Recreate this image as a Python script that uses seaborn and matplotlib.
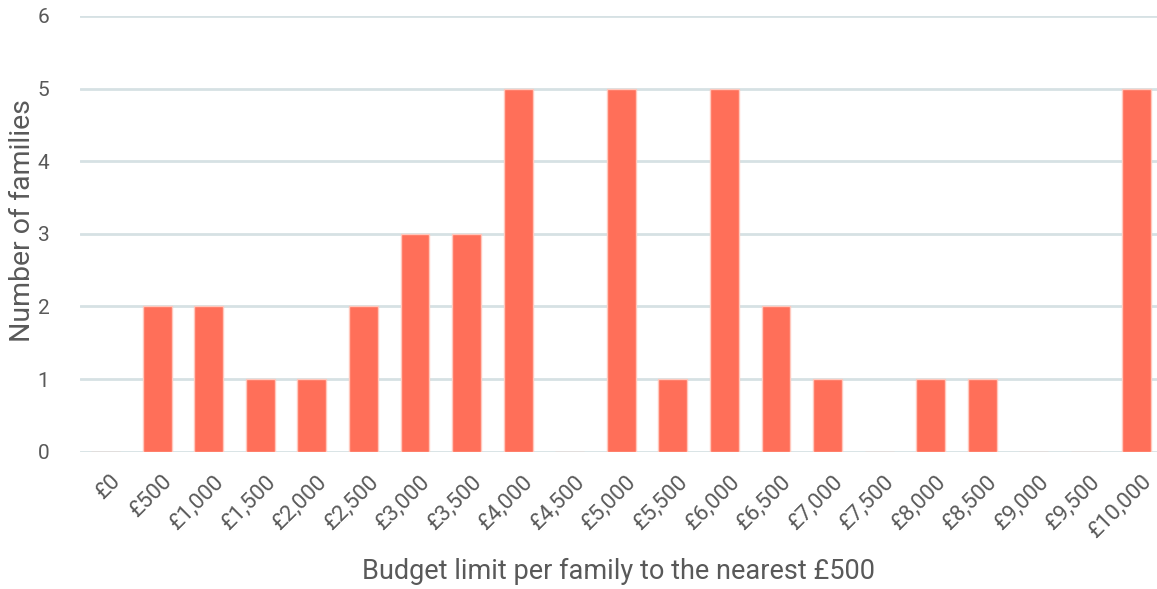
import numpy as np
import pandas as pd

import matplotlib
matplotlib.use('Agg')
import matplotlib.pyplot as plt
import matplotlib.transforms as mtransforms
import seaborn as sns

budgets = ['£0', '£500', '£1,000', '£1,500', '£2,000', '£2,500', '£3,000', '£3,500',
           '£4,000', '£4,500', '£5,000', '£5,500', '£6,000', '£6,500', '£7,000',
           '£7,500', '£8,000', '£8,500', '£9,000', '£9,500', '£10,000']
families = [0, 2, 2, 1, 1, 2, 3, 3, 5, 0, 5, 1, 5, 2, 1, 0, 1, 1, 0, 0, 5]

df = pd.DataFrame({'Budget': budgets, 'Families': families})

sns.set_theme(style='white')
plt.rcParams['font.family'] = ['Roboto', 'DejaVu Sans']

fig, ax = plt.subplots(figsize=(11.57, 5.89), dpi=100)
fig.subplots_adjust(left=0.069, right=1.0, top=0.973, bottom=0.233)

# grid first so bars sit on top
ax.set_axisbelow(True)
ax.yaxis.grid(True, color='#d6e1e4', lw=2)

sns.barplot(data=df, x='Budget', y='Families', color='#ff6f59', saturation=1,
            width=0.56, edgecolor='#ffc8bd', linewidth=1, ax=ax)

ax.set_ylim(0, 6)
ax.set_xlim(-0.5, len(budgets) - 0.61)
ax.set_yticks(range(0, 7))
sns.despine(left=True, bottom=True)

ax.tick_params(axis='y', colors='#595959', labelsize=15, length=0, pad=22)
ax.tick_params(axis='x', colors='#595959', labelsize=16, length=0, pad=14)
# rotated labels, nudged slightly right of the bar centre
offset = mtransforms.ScaledTranslation(4 / 100, 0, fig.dpi_scale_trans)
for t in ax.get_xticklabels():
    t.set_rotation(45)
    t.set_ha('right')
    t.set_rotation_mode('anchor')
    t.set_transform(t.get_transform() + offset)

ax.set_xlabel('Budget limit per family to the nearest £500', fontsize=19.5, color='#595959', labelpad=11)
ax.set_ylabel('Number of families', fontsize=20.5, color='#595959')
ax.yaxis.set_label_coords(-0.041, 0.53)

plt.savefig('out.png', dpi=100)
plt.close()
